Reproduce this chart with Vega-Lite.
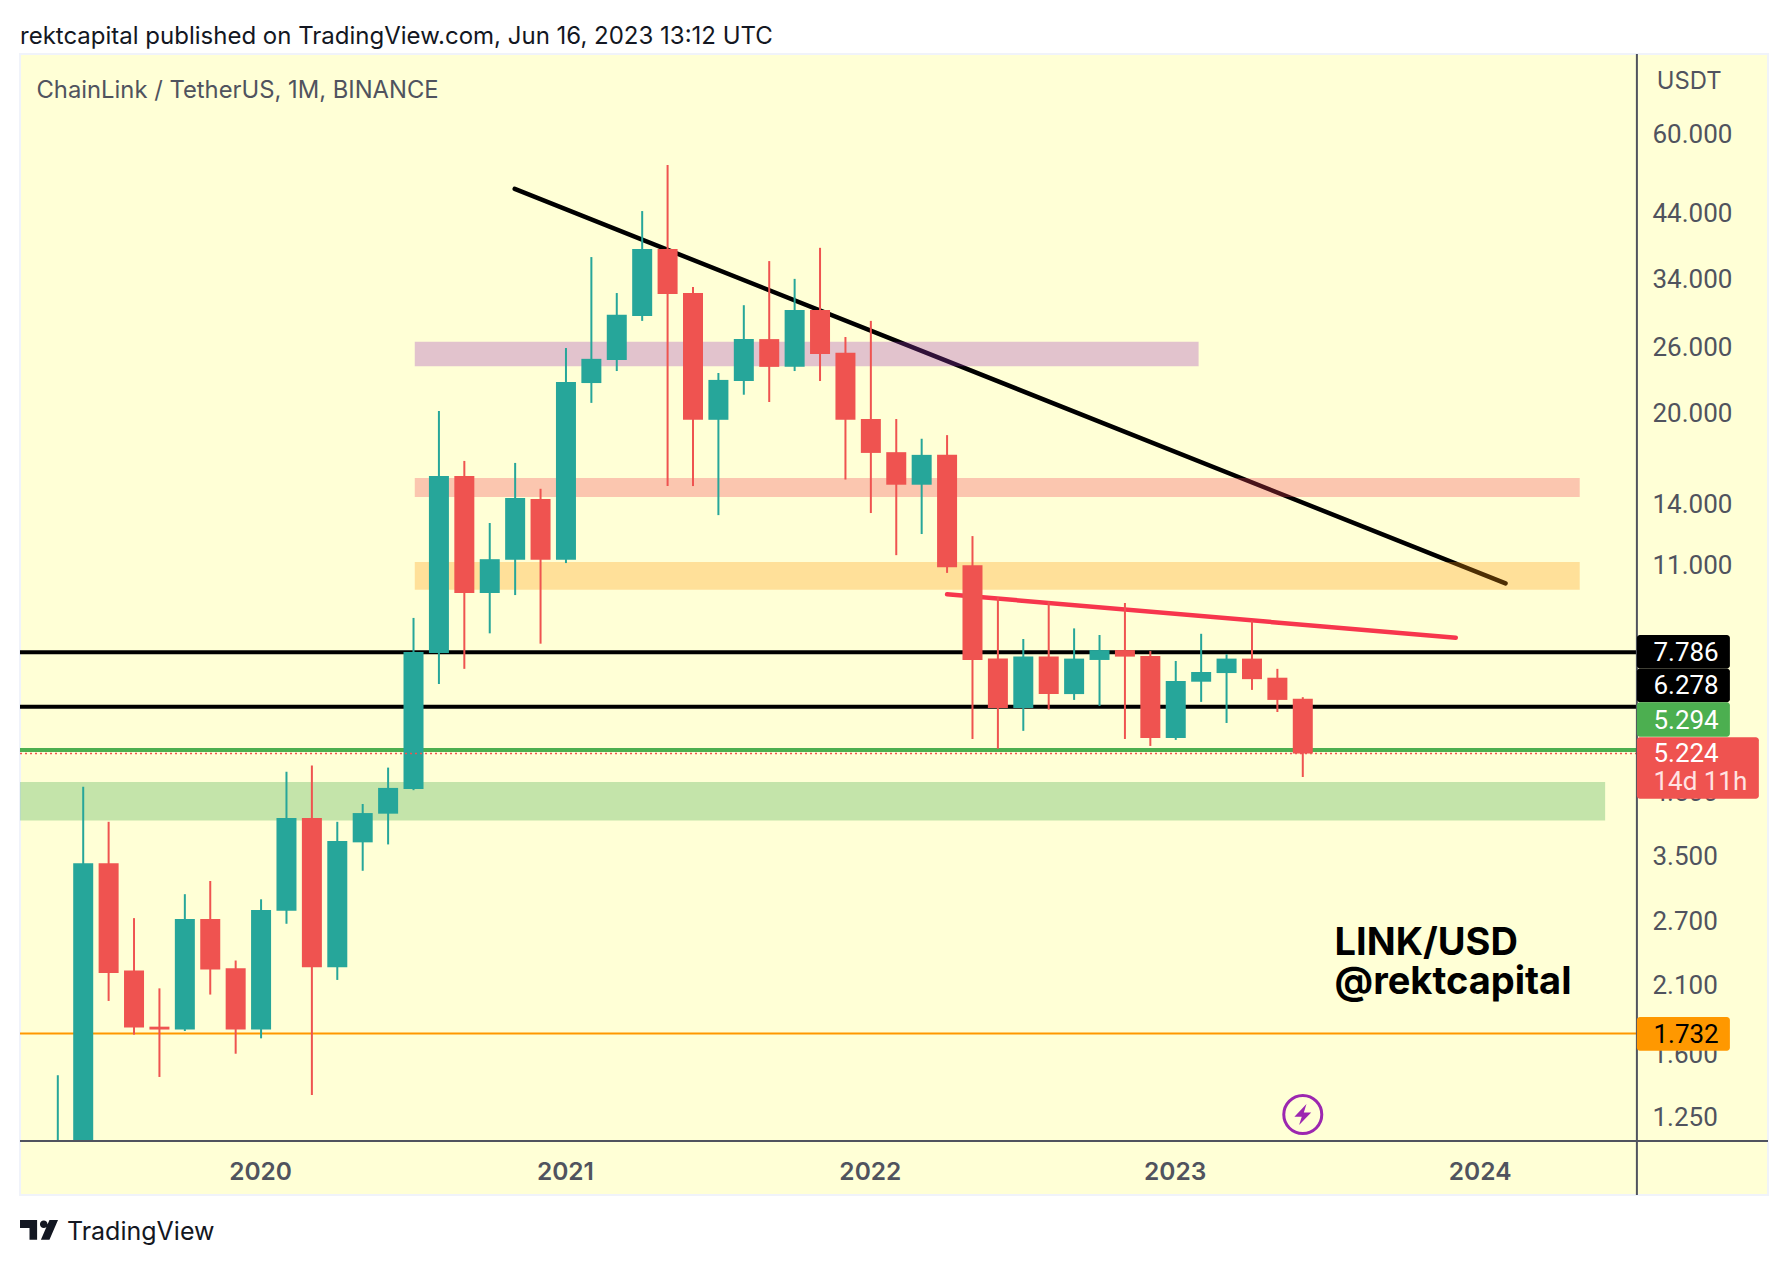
{
  "$schema": "https://vega.github.io/schema/vega-lite/v6.json",
  "width": 1748,
  "height": 1141,
  "padding": {"left": 20, "top": 54, "right": 20, "bottom": 71},
  "autosize": {"type": "none"},
  "background": "#ffffff",
  "config": {
    "view": {"fill": "#FFFFD6", "stroke": "#F0F3FA", "strokeWidth": 2},
    "font": "Inter"
  },
  "resolve": {"scale": {"color": "independent", "fill": "independent"}},
  "datasets": {
    "candles": [
      {"month": "2019-05", "t": -8, "open": null, "high": 1.47, "low": 1.135, "close": null},
      {"month": "2019-06", "t": -7, "open": 1.135, "high": 4.58, "low": 1.135, "close": 3.39},
      {"month": "2019-07", "t": -6, "open": 3.39, "high": 3.99, "low": 1.97, "close": 2.2},
      {"month": "2019-08", "t": -5, "open": 2.22, "high": 2.73, "low": 1.725, "close": 1.775},
      {"month": "2019-09", "t": -4, "open": 1.78, "high": 2.07, "low": 1.46, "close": 1.76},
      {"month": "2019-10", "t": -3, "open": 1.76, "high": 3.0, "low": 1.75, "close": 2.72},
      {"month": "2019-11", "t": -2, "open": 2.72, "high": 3.16, "low": 2.02, "close": 2.23},
      {"month": "2019-12", "t": -1, "open": 2.24, "high": 2.31, "low": 1.6, "close": 1.76},
      {"month": "2020-01", "t": 0, "open": 1.76, "high": 2.94, "low": 1.7, "close": 2.82},
      {"month": "2020-02", "t": 1, "open": 2.81, "high": 4.86, "low": 2.67, "close": 4.05},
      {"month": "2020-03", "t": 2, "open": 4.05, "high": 4.98, "low": 1.36, "close": 2.25},
      {"month": "2020-04", "t": 3, "open": 2.25, "high": 3.99, "low": 2.14, "close": 3.7},
      {"month": "2020-05", "t": 4, "open": 3.68, "high": 4.28, "low": 3.29, "close": 4.13},
      {"month": "2020-06", "t": 5, "open": 4.12, "high": 4.94, "low": 3.65, "close": 4.56},
      {"month": "2020-07", "t": 6, "open": 4.54, "high": 8.91, "low": 4.52, "close": 7.79},
      {"month": "2020-08", "t": 7, "open": 7.76, "high": 20.14, "low": 6.87, "close": 15.59},
      {"month": "2020-09", "t": 8, "open": 15.59, "high": 16.54, "low": 7.29, "close": 9.83},
      {"month": "2020-10", "t": 9, "open": 9.83, "high": 12.95, "low": 8.385, "close": 11.23},
      {"month": "2020-11", "t": 10, "open": 11.2, "high": 16.41, "low": 9.75, "close": 14.29},
      {"month": "2020-12", "t": 11, "open": 14.24, "high": 14.82, "low": 8.05, "close": 11.2},
      {"month": "2021-01", "t": 12, "open": 11.2, "high": 25.81, "low": 11.06, "close": 22.58},
      {"month": "2021-02", "t": 13, "open": 22.48, "high": 36.93, "low": 20.79, "close": 24.73},
      {"month": "2021-03", "t": 14, "open": 24.61, "high": 32.05, "low": 23.57, "close": 29.41},
      {"month": "2021-04", "t": 15, "open": 29.27, "high": 44.27, "low": 28.72, "close": 38.12},
      {"month": "2021-05", "t": 16, "open": 38.12, "high": 53.06, "low": 14.98, "close": 31.94},
      {"month": "2021-06", "t": 17, "open": 32.05, "high": 32.82, "low": 14.98, "close": 19.45},
      {"month": "2021-07", "t": 18, "open": 19.45, "high": 23.39, "low": 13.36, "close": 22.76},
      {"month": "2021-08", "t": 19, "open": 22.66, "high": 30.55, "low": 21.47, "close": 26.73},
      {"month": "2021-09", "t": 20, "open": 26.73, "high": 36.35, "low": 20.86, "close": 23.96},
      {"month": "2021-10", "t": 21, "open": 23.96, "high": 33.89, "low": 23.57, "close": 29.98},
      {"month": "2021-11", "t": 22, "open": 29.98, "high": 38.3, "low": 22.66, "close": 25.21},
      {"month": "2021-12", "t": 23, "open": 25.33, "high": 26.95, "low": 15.37, "close": 19.45},
      {"month": "2022-01", "t": 24, "open": 19.51, "high": 28.72, "low": 13.47, "close": 17.07},
      {"month": "2022-02", "t": 25, "open": 17.12, "high": 19.51, "low": 11.41, "close": 15.06},
      {"month": "2022-03", "t": 26, "open": 15.06, "high": 18.05, "low": 12.4, "close": 16.94},
      {"month": "2022-04", "t": 27, "open": 16.94, "high": 18.31, "low": 10.64, "close": 10.88},
      {"month": "2022-05", "t": 28, "open": 10.97, "high": 12.3, "low": 5.53, "close": 7.55},
      {"month": "2022-06", "t": 29, "open": 7.59, "high": 9.66, "low": 5.32, "close": 6.25},
      {"month": "2022-07", "t": 30, "open": 6.25, "high": 8.2, "low": 5.71, "close": 7.65},
      {"month": "2022-08", "t": 31, "open": 7.65, "high": 9.51, "low": 6.21, "close": 6.6},
      {"month": "2022-09", "t": 32, "open": 6.6, "high": 8.55, "low": 6.45, "close": 7.59},
      {"month": "2022-10", "t": 33, "open": 7.55, "high": 8.33, "low": 6.3, "close": 7.85},
      {"month": "2022-11", "t": 34, "open": 7.85, "high": 9.45, "low": 5.53, "close": 7.65},
      {"month": "2022-12", "t": 35, "open": 7.67, "high": 7.82, "low": 5.38, "close": 5.55},
      {"month": "2023-01", "t": 36, "open": 5.55, "high": 7.52, "low": 5.51, "close": 6.95},
      {"month": "2023-02", "t": 37, "open": 6.93, "high": 8.37, "low": 6.4, "close": 7.2},
      {"month": "2023-03", "t": 38, "open": 7.17, "high": 7.72, "low": 5.89, "close": 7.59},
      {"month": "2023-04", "t": 39, "open": 7.59, "high": 8.82, "low": 6.71, "close": 7.0},
      {"month": "2023-05", "t": 40, "open": 7.04, "high": 7.29, "low": 6.15, "close": 6.45},
      {"month": "2023-06", "t": 41, "open": 6.48, "high": 6.52, "low": 4.76, "close": 5.224}
    ],
    "levels": [
      {"level": "upper", "price": 7.786, "start": -9.488, "end": 54.15},
      {"level": "lower", "price": 6.278, "start": -9.488, "end": 54.15},
      {"level": "bid", "price": 5.294, "start": -9.488, "end": 54.15}
    ],
    "zones": [
      {"zone": "purple", "start": 6.05, "end": 36.9, "top": 26.44, "bottom": 24.03},
      {"zone": "salmon", "start": 6.05, "end": 51.9, "top": 15.47, "bottom": 14.35},
      {"zone": "orange", "start": 6.05, "end": 51.9, "top": 11.11, "bottom": 9.96},
      {"zone": "green", "start": -9.488, "end": 52.9, "top": 4.67, "bottom": 4.01}
    ],
    "trends": [
      {"line": "black", "t": 9.984, "price": 48.3},
      {"line": "black", "t": 48.98, "price": 10.21},
      {"line": "red", "t": 27.0, "price": 9.78},
      {"line": "red", "t": 47.02, "price": 8.24}
    ],
    "tags": [
      {"tag": "upper", "start": 54.15, "end": 57.81, "top": 8.33, "bottom": 7.3},
      {"tag": "lower", "start": 54.15, "end": 57.81, "top": 7.3, "bottom": 6.39},
      {"tag": "bid", "start": 54.15, "end": 57.81, "top": 6.39, "bottom": 5.58},
      {"tag": "last", "start": 54.15, "end": 58.95, "top": 5.57, "bottom": 4.37},
      {"tag": "base", "start": 54.15, "end": 57.81, "top": 1.85, "bottom": 1.619}
    ],
    "tagLabels": [
      {"label": "7.786", "kind": "light", "t": 54.8, "price": 7.786},
      {"label": "6.278", "kind": "light", "t": 54.8, "price": 6.83},
      {"label": "5.294", "kind": "light", "t": 54.8, "price": 5.97},
      {"label": "5.224", "kind": "light", "t": 54.8, "price": 5.23},
      {"label": "14d 11h", "kind": "soft", "t": 54.8, "price": 4.68},
      {"label": "1.732", "kind": "dark", "t": 54.8, "price": 1.732}
    ]
  },
  "layer": [
    {
      "data": {"name": "levels"},
      "mark": {"type": "rule", "strokeWidth": 4},
      "encoding": {
        "x": {
          "field": "start",
          "type": "quantitative",
          "scale": {"domain": [-9.488, 59.31], "nice": false, "zero": false, "padding": 0},
          "axis": {
            "values": [0, 12, 24, 36, 48],
            "labelExpr": "2020 + datum.value / 12",
            "title": null,
            "orient": "bottom",
            "offset": -35,
            "grid": false,
            "ticks": false,
            "domain": false,
            "labelPadding": 0,
            "labelFont": "Inter",
            "labelFontSize": 24.5,
            "labelFontWeight": 600,
            "labelColor": "#50535E",
            "labelOverlap": false,
            "labelFlush": false,
            "labelOffset": -1
          }
        },
        "x2": {"field": "end"},
        "y": {
          "field": "price",
          "type": "quantitative",
          "scale": {"type": "log", "base": 2.718281828, "domain": [0.917, 82.2], "nice": false, "zero": false},
          "axis": {
            "values": [60, 44, 34, 26, 20, 14, 11, 4.5, 3.5, 2.7, 2.1, 1.6, 1.25],
            "format": ".3f",
            "title": null,
            "orient": "right",
            "offset": -116,
            "grid": false,
            "ticks": false,
            "domain": false,
            "labelPadding": 0,
            "labelFont": "Roboto",
            "labelFontSize": 26,
            "labelColor": "#50535E",
            "labelOverlap": false,
            "labelFlush": false,
            "labelOffset": 1
          }
        },
        "color": {
          "field": "level",
          "type": "nominal",
          "scale": {"domain": ["upper", "lower", "bid"], "range": ["#000000", "#000000", "#4CAF50"]},
          "legend": null
        }
      }
    },
    {
      "data": {"values": [{"price": 1.732, "start": -9.488, "end": 54.15}]},
      "mark": {"type": "rule", "stroke": "#FF9800", "strokeWidth": 2},
      "encoding": {
        "x": {"field": "start", "type": "quantitative"},
        "x2": {"field": "end"},
        "y": {"field": "price", "type": "quantitative"}
      }
    },
    {
      "data": {"name": "trends"},
      "mark": {"type": "line", "strokeWidth": 4.5, "strokeCap": "round"},
      "encoding": {
        "x": {"field": "t", "type": "quantitative"},
        "y": {"field": "price", "type": "quantitative"},
        "color": {
          "field": "line",
          "type": "nominal",
          "scale": {"domain": ["black", "red"], "range": ["#000000", "#F7364D"]},
          "legend": null
        }
      }
    },
    {
      "data": {"name": "zones"},
      "mark": {"type": "rect", "fillOpacity": 0.3},
      "encoding": {
        "x": {"field": "start", "type": "quantitative"},
        "x2": {"field": "end"},
        "y": {"field": "top", "type": "quantitative"},
        "y2": {"field": "bottom"},
        "fill": {
          "field": "zone",
          "type": "nominal",
          "scale": {"domain": ["purple", "salmon", "orange", "green"], "range": ["#9E37BB", "#F24157", "#FF980E", "#3AA547"]},
          "legend": null
        }
      }
    },
    {
      "data": {"name": "candles"},
      "mark": {"type": "rule", "strokeWidth": 2},
      "encoding": {
        "x": {"field": "t", "type": "quantitative"},
        "y": {"field": "low", "type": "quantitative"},
        "y2": {"field": "high"},
        "stroke": {
          "condition": {"test": "datum.close == null || datum.close >= datum.open", "value": "#26A69A"},
          "value": "#EF5350"
        }
      }
    },
    {
      "data": {"name": "candles"},
      "transform": [{"filter": "datum.open != null"}],
      "mark": {"type": "bar", "width": 20},
      "encoding": {
        "x": {"field": "t", "type": "quantitative"},
        "y": {"field": "open", "type": "quantitative"},
        "y2": {"field": "close"},
        "fill": {
          "condition": {"test": "datum.close >= datum.open", "value": "#26A69A"},
          "value": "#EF5350"
        }
      }
    },
    {
      "data": {"values": [{"price": 5.224, "start": -9.488, "end": 54.15}]},
      "mark": {"type": "rule", "stroke": "#EF5350", "strokeWidth": 1.5, "strokeDash": [2, 3]},
      "encoding": {
        "x": {"field": "start", "type": "quantitative"},
        "x2": {"field": "end"},
        "y": {"field": "price", "type": "quantitative"}
      }
    },
    {
      "data": {"values": [{"t": 54.15, "low": 0.917, "high": 82.2}]},
      "mark": {"type": "rule", "stroke": "#50535E", "strokeWidth": 2},
      "encoding": {
        "x": {"field": "t", "type": "quantitative"},
        "y": {"field": "low", "type": "quantitative"},
        "y2": {"field": "high"}
      }
    },
    {
      "data": {"values": [{"price": 1.1346, "start": -9.488, "end": 59.31}]},
      "mark": {"type": "rule", "stroke": "#50535E", "strokeWidth": 2},
      "encoding": {
        "x": {"field": "start", "type": "quantitative"},
        "x2": {"field": "end"},
        "y": {"field": "price", "type": "quantitative"}
      }
    },
    {
      "data": {"name": "tags"},
      "mark": {"type": "rect", "cornerRadius": 3},
      "encoding": {
        "x": {"field": "start", "type": "quantitative"},
        "x2": {"field": "end"},
        "y": {"field": "top", "type": "quantitative"},
        "y2": {"field": "bottom"},
        "fill": {
          "field": "tag",
          "type": "nominal",
          "scale": {"domain": ["upper", "lower", "bid", "last", "base"], "range": ["#000000", "#000000", "#4CAF50", "#EF5350", "#FF9800"]},
          "legend": null
        }
      }
    },
    {
      "data": {"name": "tagLabels"},
      "mark": {"type": "text", "align": "left", "baseline": "middle", "font": "Roboto", "fontSize": 26, "dy": 1},
      "encoding": {
        "x": {"field": "t", "type": "quantitative"},
        "y": {"field": "price", "type": "quantitative"},
        "text": {"field": "label"},
        "fill": {
          "field": "kind",
          "type": "nominal",
          "scale": {"domain": ["light", "soft", "dark"], "range": ["#FFFFFF", "#FFE3E2", "#000000"]},
          "legend": null
        }
      }
    },
    {
      "data": {"values": [
        {"label": "USDT", "t": 54.93, "price": 73.97},
        {"label": "ChainLink / TetherUS, 1M, BINANCE", "t": -8.84, "price": 71.4}
      ]},
      "mark": {"type": "text", "align": "left", "baseline": "middle", "font": "Inter", "fontSize": 23.8, "dy": 1, "color": "#50535E"},
      "encoding": {
        "x": {"field": "t", "type": "quantitative"},
        "y": {"field": "price", "type": "quantitative"},
        "text": {"field": "label"}
      }
    },
    {
      "data": {"values": [
        {"label": "rektcapital published on TradingView.com, Jun 16, 2023 13:12 UTC", "t": -9.488, "price": 88.4}
      ]},
      "mark": {"type": "text", "align": "left", "baseline": "middle", "font": "Inter", "fontSize": 24, "dy": 1, "color": "#131722"},
      "encoding": {
        "x": {"field": "t", "type": "quantitative"},
        "y": {"field": "price", "type": "quantitative"},
        "text": {"field": "label"}
      }
    },
    {
      "data": {"values": [{"label": "TradingView", "t": -7.64, "price": 0.795}]},
      "mark": {"type": "text", "align": "left", "baseline": "middle", "font": "Inter", "fontSize": 25, "dy": 1, "color": "#131722"},
      "encoding": {
        "x": {"field": "t", "type": "quantitative"},
        "y": {"field": "price", "type": "quantitative"},
        "text": {"field": "label"}
      }
    },
    {
      "data": {"values": [
        {"label": "LINK/USD", "t": 42.25, "price": 2.479},
        {"label": "@rektcapital", "t": 42.25, "price": 2.122}
      ]},
      "mark": {"type": "text", "align": "left", "baseline": "middle", "font": "Inter", "fontSize": 38, "fontWeight": 700, "dy": 1, "color": "#000000"},
      "encoding": {
        "x": {"field": "t", "type": "quantitative"},
        "y": {"field": "price", "type": "quantitative"},
        "text": {"field": "label"}
      }
    },
    {
      "data": {"values": [{"t": 41, "price": 1.259}]},
      "mark": {"type": "point", "shape": "circle", "size": 1444, "stroke": "#9C27B0", "strokeWidth": 3, "opacity": 1},
      "encoding": {
        "x": {"field": "t", "type": "quantitative"},
        "y": {"field": "price", "type": "quantitative"}
      }
    },
    {
      "data": {"values": [{"t": 41, "price": 1.259}]},
      "mark": {
        "type": "point",
        "shape": "M0.35,-1 L-0.8,0.2 L-0.1,0.2 L-0.35,1 L0.8,-0.2 L0.1,-0.2 Z",
        "size": 441,
        "filled": true,
        "fill": "#9C27B0",
        "opacity": 1
      },
      "encoding": {
        "x": {"field": "t", "type": "quantitative"},
        "y": {"field": "price", "type": "quantitative"}
      }
    },
    {
      "data": {"values": [{"t": -8.74, "price": 0.799}]},
      "mark": {
        "type": "point",
        "shape": "M-1,-0.52 H-0.1 V0.52 H-0.5 V-0.1 H-1 Z M0.05,-0.3 A0.2,0.2 0 1 1 0.45,-0.3 A0.2,0.2 0 1 1 0.05,-0.3 Z M0.55,-0.52 H1 L0.55,0.52 H0.1 Z",
        "size": 1444,
        "filled": true,
        "fill": "#131722",
        "opacity": 1
      },
      "encoding": {
        "x": {"field": "t", "type": "quantitative"},
        "y": {"field": "price", "type": "quantitative"}
      }
    }
  ]
}
